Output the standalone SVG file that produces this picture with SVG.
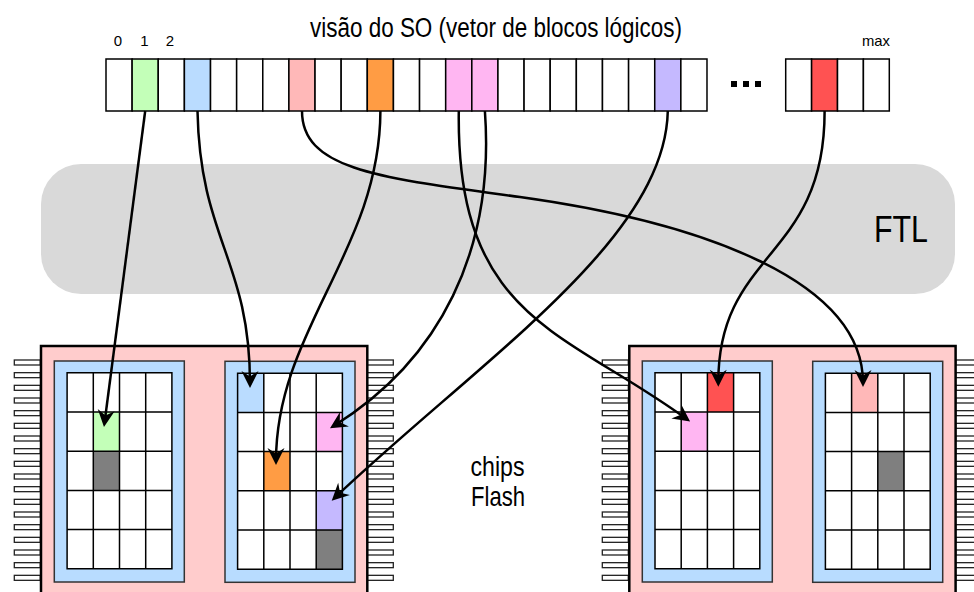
<svg xmlns="http://www.w3.org/2000/svg" xmlns:xlink="http://www.w3.org/1999/xlink" width="974" height="592" viewBox="0 0 974 592">
<style>
.t{font-family:"Liberation Sans",Arial,sans-serif;fill:#000}
.cell{fill:#fff;stroke:#000;stroke-width:1.5}
.pin{fill:#fff;stroke:#222;stroke-width:1.3}
.chip{fill:#ffcccc;stroke:#000;stroke-width:2.5}
.blk{fill:#b8dcff;stroke:#333;stroke-width:1.5}
.gbg{fill:#fff}
.gl{fill:none;stroke:#000;stroke-width:1.5}
.con{fill:none;stroke:#000;stroke-width:2.5;marker-end:url(#ah)}
.green{fill:#c3ffb8}.blue{fill:#badcff}.lpink{fill:#ffb8b8}.orange{fill:#ff9c44}.mag{fill:#ffb6f2}.purple{fill:#c5b9ff}.red{fill:#ff5252}.gray{fill:#7f7f7f}
</style>
<defs>
<marker id="ah" markerUnits="userSpaceOnUse" viewBox="-14 -10 20 20" markerWidth="20" markerHeight="20" refX="0" refY="0" orient="auto">
<path d="M4,0 L-13,-8.5 L-7.5,0 L-13,8.5 Z" fill="#000"/>
</marker>
<g id="pins">
<rect class="pin" x="0" y="360" width="26" height="5"/>
<rect class="pin" x="0" y="372.67" width="26" height="5"/>
<rect class="pin" x="0" y="385.33" width="26" height="5"/>
<rect class="pin" x="0" y="398" width="26" height="5"/>
<rect class="pin" x="0" y="410.67" width="26" height="5"/>
<rect class="pin" x="0" y="423.33" width="26" height="5"/>
<rect class="pin" x="0" y="436" width="26" height="5"/>
<rect class="pin" x="0" y="448.67" width="26" height="5"/>
<rect class="pin" x="0" y="461.33" width="26" height="5"/>
<rect class="pin" x="0" y="474" width="26" height="5"/>
<rect class="pin" x="0" y="486.67" width="26" height="5"/>
<rect class="pin" x="0" y="499.33" width="26" height="5"/>
<rect class="pin" x="0" y="512" width="26" height="5"/>
<rect class="pin" x="0" y="524.67" width="26" height="5"/>
<rect class="pin" x="0" y="537.33" width="26" height="5"/>
<rect class="pin" x="0" y="550" width="26" height="5"/>
<rect class="pin" x="0" y="562.67" width="26" height="5"/>
<rect class="pin" x="0" y="575.33" width="26" height="5"/>
</g>
<path id="grid" class="gl" d="M0,0H104.8V196H0Z M26.2,0V196 M52.4,0V196 M78.6,0V196 M0,39.2H104.8 M0,78.4H104.8 M0,117.6H104.8 M0,156.8H104.8"/>
</defs>
<rect width="974" height="592" fill="#fff"/>

<g id="title">
<text class="t" x="310" y="37" font-size="27" textLength="372" lengthAdjust="spacingAndGlyphs">visão do SO (vetor de blocos lógicos)</text>
<text class="t" x="118" y="45.5" font-size="15" text-anchor="middle">0</text>
<text class="t" x="144.4" y="45.5" font-size="15" text-anchor="middle">1</text>
<text class="t" x="170" y="45.5" font-size="15" text-anchor="middle">2</text>
<text class="t" x="876" y="45.5" font-size="15" text-anchor="middle" textLength="28" lengthAdjust="spacingAndGlyphs">max</text>
</g>

<g id="ftl">
<rect x="41" y="164" width="914" height="130" rx="40" ry="40" fill="#d9d9d9"/>
<text class="t" x="874" y="242" font-size="36" textLength="54" lengthAdjust="spacingAndGlyphs">FTL</text>
</g>

<g id="logical-array">
<rect class="cell" x="106" y="59" width="26.13" height="52"/>
<rect class="cell green" x="132.13" y="59" width="26.13" height="52"/>
<rect class="cell" x="158.26" y="59" width="26.13" height="52"/>
<rect class="cell blue" x="184.39" y="59" width="26.13" height="52"/>
<rect class="cell" x="210.52" y="59" width="26.13" height="52"/>
<rect class="cell" x="236.65" y="59" width="26.13" height="52"/>
<rect class="cell" x="262.78" y="59" width="26.13" height="52"/>
<rect class="cell lpink" x="288.91" y="59" width="26.13" height="52"/>
<rect class="cell" x="315.04" y="59" width="26.13" height="52"/>
<rect class="cell" x="341.17" y="59" width="26.13" height="52"/>
<rect class="cell orange" x="367.3" y="59" width="26.13" height="52"/>
<rect class="cell" x="393.43" y="59" width="26.13" height="52"/>
<rect class="cell" x="419.56" y="59" width="26.13" height="52"/>
<rect class="cell mag" x="445.69" y="59" width="26.13" height="52"/>
<rect class="cell mag" x="471.82" y="59" width="26.13" height="52"/>
<rect class="cell" x="497.95" y="59" width="26.13" height="52"/>
<rect class="cell" x="524.08" y="59" width="26.13" height="52"/>
<rect class="cell" x="550.21" y="59" width="26.13" height="52"/>
<rect class="cell" x="576.34" y="59" width="26.13" height="52"/>
<rect class="cell" x="602.47" y="59" width="26.13" height="52"/>
<rect class="cell" x="628.6" y="59" width="26.13" height="52"/>
<rect class="cell purple" x="654.73" y="59" width="26.13" height="52"/>
<rect class="cell" x="680.86" y="59" width="26.13" height="52"/>
<rect x="731" y="81" width="6" height="6" fill="#000"/>
<rect x="743" y="81" width="6" height="6" fill="#000"/>
<rect x="755" y="81" width="6" height="6" fill="#000"/>
<rect class="cell" x="785.7" y="59" width="25.9" height="52"/>
<rect class="cell red" x="811.6" y="59" width="25.9" height="52"/>
<rect class="cell" x="837.5" y="59" width="25.9" height="52"/>
<rect class="cell" x="863.4" y="59" width="25.9" height="52"/>
</g>

<g id="chip-left">
<use xlink:href="#pins" x="14.3"/>
<use xlink:href="#pins" x="367.3"/>
<rect class="chip" x="41" y="346" width="326.3" height="262"/>
<rect class="blk" x="54.3" y="361" width="130" height="221"/>
<rect class="gbg" x="67.1" y="372.8" width="104.8" height="196"/>
<rect class="green" x="93.3" y="412" width="26.2" height="39.2"/>
<rect class="gray" x="93.3" y="451.2" width="26.2" height="39.2"/>
<use xlink:href="#grid" x="67.1" y="372.8"/>
<rect class="blk" x="225" y="361.3" width="130" height="221"/>
<rect class="gbg" x="237.6" y="373.2" width="104.8" height="196"/>
<rect class="blue" x="237.6" y="373.2" width="26.2" height="39.2"/>
<rect class="mag" x="316.2" y="412.4" width="26.2" height="39.2"/>
<rect class="orange" x="263.8" y="451.6" width="26.2" height="39.2"/>
<rect class="purple" x="316.2" y="490.8" width="26.2" height="39.2"/>
<rect class="gray" x="316.2" y="530" width="26.2" height="39.2"/>
<use xlink:href="#grid" x="237.6" y="373.2"/>
</g>

<g id="chip-right">
<use xlink:href="#pins" x="602.3"/>
<use xlink:href="#pins" x="955.6"/>
<rect class="chip" x="629.3" y="346" width="326.3" height="262"/>
<rect class="blk" x="642.3" y="361" width="130" height="221"/>
<rect class="gbg" x="655" y="372.8" width="104.8" height="196"/>
<rect class="red" x="707.4" y="372.8" width="26.2" height="39.2"/>
<rect class="mag" x="681.2" y="412" width="26.2" height="39.2"/>
<use xlink:href="#grid" x="655" y="372.8"/>
<rect class="blk" x="812.7" y="361.3" width="130" height="221"/>
<rect class="gbg" x="825.4" y="373.2" width="104.8" height="196"/>
<rect class="lpink" x="851.6" y="373.2" width="26.2" height="39.2"/>
<rect class="gray" x="877.8" y="451.6" width="26.2" height="39.2"/>
<use xlink:href="#grid" x="825.4" y="373.2"/>
</g>

<g id="label-chips">
<text class="t" x="497.5" y="476" font-size="28" text-anchor="middle" textLength="54" lengthAdjust="spacingAndGlyphs">chips</text>
<text class="t" x="498" y="505.5" font-size="28" text-anchor="middle" textLength="54" lengthAdjust="spacingAndGlyphs">Flash</text>
</g>

<g id="connectors">
<path class="con" d="M145.2,111 L104.5,423"/>
<path class="con" d="M197.5,111 C200,240 250,260 250,384"/>
<path class="con" d="M302,111 C302,170 380,178 520,197 C700,222 863,280 863,383"/>
<path class="con" d="M380.4,111 C380,250 276,330 276,461"/>
<path class="con" d="M458.8,111 C456,320 565,330 686.9,419.2"/>
<path class="con" d="M484.9,111 C495,250 440,360 333.4,426.2"/>
<path class="con" d="M667.8,111 C665,240 480,360 334.6,497.9"/>
<path class="con" d="M824.6,111 C825,260 718,250 718.3,382.7"/>
</g>
</svg>
